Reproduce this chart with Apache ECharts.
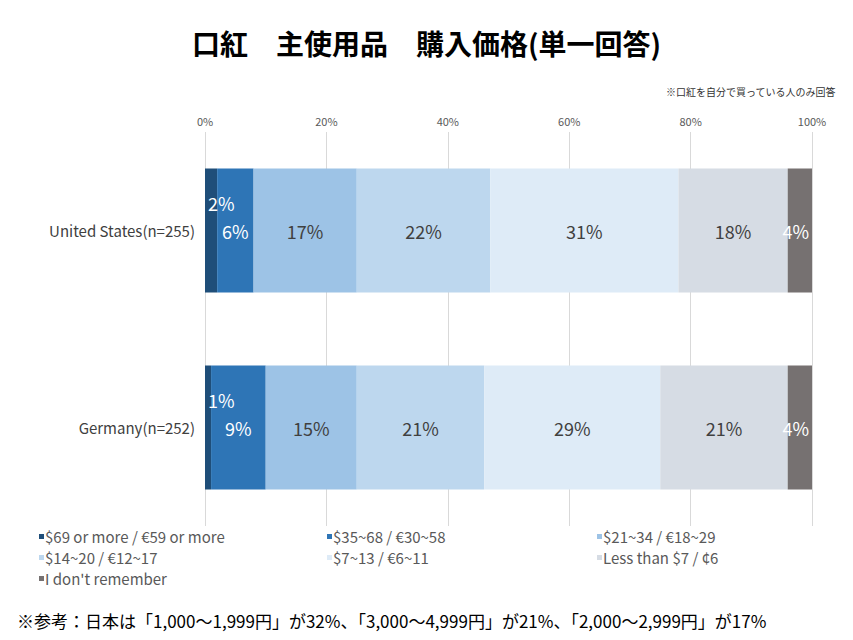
<!DOCTYPE html>
<html><head><meta charset="utf-8">
<script src="https://cdn.jsdelivr.net/npm/echarts@6/dist/echarts.min.js"></script>
<style>body{margin:0;background:#fff}#c{width:853px;height:640px}</style>
</head><body><div id="c"></div>
<script>
var countries = ['United States(n=255)', 'Germany(n=252)'];
var seriesNames = ['$69 or more / €59 or more', '$35~68 / €30~58', '$21~34 / €18~29',
  '$14~20 / €12~17', '$7~13 / €6~11', 'Less than $7 / ¢6', "I don't remember"];
var values = [
  [2, 1],
  [6, 9],
  [17, 15],
  [22, 21],
  [31, 29],
  [18, 21],
  [4, 4]
];
var colors = ['#1f4e79', '#2e75b6', '#9dc3e6', '#bdd7ee', '#deebf7', '#d6dce4', '#767171'];
var labelColors = ['#fff', '#fff', '#404040', '#404040', '#404040', '#404040', '#fff'];

var font = "'Noto Sans CJK JP', 'Noto Sans', sans-serif";
var chart = echarts.init(document.getElementById('c'), null, { renderer: 'svg' });

var series = seriesNames.map(function(name, i) {
  var lab = {
    show: true, color: labelColors[i], fontSize: 18, fontFamily: font,
    formatter: '{c}%'
  };
  if (i === 0) { lab.position = 'insideLeft'; lab.offset = [-2, -28]; }
  else if (i === 6) { lab.position = 'inside'; lab.offset = [-4, 0]; }
  else lab.position = 'inside';
  return {
    name: name, type: 'bar', stack: 'a', barWidth: 124,
    itemStyle: { color: colors[i] },
    label: lab,
    data: values[i]
  };
});

function legendCol(left, items) {
  return {
    left: left, top: 524, orient: 'vertical', itemGap: 6,
    itemWidth: 5, itemHeight: 5, icon: 'rect',
    textStyle: { color: '#595959', fontSize: 15, fontFamily: font, padding: [0, 0, 0, -4] },
    data: items
  };
}

chart.setOption({
  animation: false,
  title: [
    { text: '口紅　主使用品　購入価格(単一回答)', left: 'center', top: 24,
      textStyle: { fontSize: 28, fontWeight: 'bold', color: '#000', fontFamily: font } },
    { text: '※口紅を自分で買っている人のみ回答', right: 12, top: 81,
      textStyle: { fontSize: 10, fontWeight: 'normal', color: '#333', fontFamily: font } },
    { text: '※参考：日本は「1,000～1,999円」が32%、「3,000～4,999円」が21%、「2,000～2,999円」が17%',
      left: 12, top: 607,
      textStyle: { fontSize: 17, fontWeight: 'normal', color: '#000', fontFamily: font } }
  ],
  legend: [
    legendCol(34, [seriesNames[0], seriesNames[3], seriesNames[6]]),
    legendCol(322, [seriesNames[1], seriesNames[4]]),
    legendCol(592, [seriesNames[2], seriesNames[5]])
  ],
  grid: { left: 205, right: 41, top: 132, height: 394 },
  xAxis: {
    type: 'value', position: 'top', min: 0, max: 100, interval: 20,
    axisLabel: { formatter: '{value}%', color: '#595959', fontSize: 11, fontFamily: font, margin: 6 },
    axisLine: { show: false }, axisTick: { show: false },
    splitLine: { lineStyle: { color: '#d9d9d9' } }
  },
  yAxis: {
    type: 'category', inverse: true, data: countries,
    axisLabel: { color: '#404040', fontSize: 15, fontFamily: font, margin: 10 },
    axisLine: { show: false }, axisTick: { show: false }
  },
  series: series
});
</script></body></html>
